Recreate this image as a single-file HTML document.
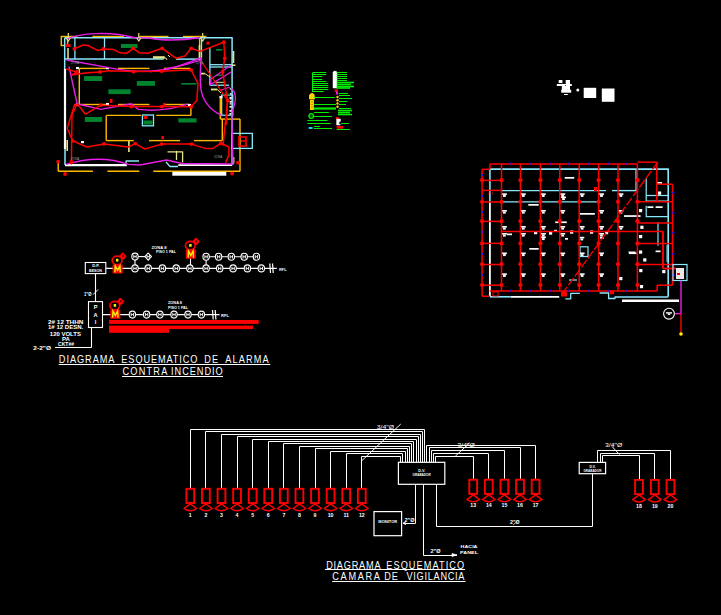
<!DOCTYPE html>
<html><head><meta charset="utf-8"><style>
html,body{margin:0;padding:0;background:#000;width:721px;height:615px;overflow:hidden}
svg{display:block;font-family:"Liberation Sans",sans-serif}
</style></head><body>
<svg width="721" height="615" viewBox="0 0 721 615">
<rect width="721" height="615" fill="#000"/>
<line x1="67.6" y1="36.5" x2="77.3" y2="36.5" stroke="#ffba00" stroke-width="1.4" />
<line x1="92.4" y1="36.5" x2="123.9" y2="36.5" stroke="#ffba00" stroke-width="1.4" />
<line x1="139.4" y1="36.5" x2="168.5" y2="36.5" stroke="#ffba00" stroke-width="1.4" />
<line x1="183" y1="36.5" x2="206.4" y2="36.5" stroke="#ffba00" stroke-width="1.4" />
<rect x="61.3" y="36.5" width="6.3" height="9" fill="none" stroke="#ffba00" stroke-width="1.4" />
<line x1="199.6" y1="36.5" x2="199.6" y2="59" stroke="#ffba00" stroke-width="1.4" />
<line x1="79.3" y1="68.4" x2="108.4" y2="68.4" stroke="#ffba00" stroke-width="1.4" />
<line x1="79.3" y1="104.5" x2="108.4" y2="104.5" stroke="#ffba00" stroke-width="1.4" />
<line x1="118" y1="68.4" x2="149.5" y2="68.4" stroke="#ffba00" stroke-width="1.4" />
<line x1="118" y1="104.5" x2="149.5" y2="104.5" stroke="#ffba00" stroke-width="1.4" />
<line x1="164" y1="68.4" x2="190.2" y2="68.4" stroke="#ffba00" stroke-width="1.4" />
<line x1="164" y1="104.5" x2="190.2" y2="104.5" stroke="#ffba00" stroke-width="1.4" />
<line x1="79.3" y1="68.4" x2="79.3" y2="104.5" stroke="#ffba00" stroke-width="1.4" />
<line x1="106.3" y1="115.4" x2="141" y2="115.4" stroke="#ffba00" stroke-width="1.4" />
<line x1="156.2" y1="115.4" x2="190.9" y2="115.4" stroke="#ffba00" stroke-width="1.4" />
<line x1="190.9" y1="104.5" x2="190.9" y2="115.4" stroke="#ffba00" stroke-width="1.4" />
<line x1="106.2" y1="115.4" x2="106.2" y2="140.6" stroke="#ffba00" stroke-width="1.4" />
<line x1="106.2" y1="140.6" x2="133.8" y2="140.6" stroke="#ffba00" stroke-width="1.4" />
<line x1="149" y1="140.6" x2="180" y2="140.6" stroke="#ffba00" stroke-width="1.4" />
<line x1="194" y1="140.6" x2="222.3" y2="140.6" stroke="#ffba00" stroke-width="1.4" />
<line x1="222.3" y1="119.1" x2="222.3" y2="140.6" stroke="#ffba00" stroke-width="1.4" />
<line x1="220.4" y1="119.1" x2="240" y2="119.1" stroke="#ffba00" stroke-width="1.4" />
<line x1="240" y1="119.1" x2="240" y2="171.3" stroke="#ffba00" stroke-width="1.4" />
<line x1="58.2" y1="171.3" x2="92.9" y2="171.3" stroke="#ffba00" stroke-width="1.4" />
<line x1="107.4" y1="171.3" x2="139.3" y2="171.3" stroke="#ffba00" stroke-width="1.4" />
<line x1="153.3" y1="171.3" x2="240" y2="171.3" stroke="#ffba00" stroke-width="1.4" />
<line x1="58.2" y1="161.6" x2="58.2" y2="171.3" stroke="#ffba00" stroke-width="1.4" />
<line x1="220.4" y1="96.3" x2="220.4" y2="119.1" stroke="#ffba00" stroke-width="1.6" />
<line x1="64.7" y1="37.8" x2="232.6" y2="37.8" stroke="#8ae8ff" stroke-width="1.5" />
<line x1="64.7" y1="37.8" x2="64.7" y2="69" stroke="#8ae8ff" stroke-width="1.5" />
<line x1="65" y1="149" x2="65" y2="165" stroke="#8ae8ff" stroke-width="1.5" />
<line x1="232.1" y1="37.8" x2="232.1" y2="165.3" stroke="#8ae8ff" stroke-width="1.5" />
<line x1="74.9" y1="37.8" x2="74.9" y2="59.1" stroke="#8ae8ff" stroke-width="1.3" />
<line x1="104.5" y1="37.8" x2="104.5" y2="59.1" stroke="#8ae8ff" stroke-width="1.3" />
<line x1="64.7" y1="59.1" x2="163.7" y2="59.1" stroke="#8ae8ff" stroke-width="1.5" />
<line x1="176" y1="59.1" x2="201.5" y2="59.1" stroke="#8ae8ff" stroke-width="1.5" />
<line x1="201.5" y1="37.8" x2="201.5" y2="59.1" stroke="#8ae8ff" stroke-width="1.3" />
<line x1="209.9" y1="47.5" x2="209.9" y2="85.2" stroke="#8ae8ff" stroke-width="1.3" />
<line x1="209.9" y1="64.7" x2="232.1" y2="64.7" stroke="#8ae8ff" stroke-width="1.3" />
<line x1="209.9" y1="67.0" x2="232.1" y2="67.0" stroke="#8ae8ff" stroke-width="1.3" />
<line x1="209.9" y1="85.2" x2="229" y2="85.2" stroke="#8ae8ff" stroke-width="1.3" />
<rect x="221.7" y="95" width="11.1" height="20.2" fill="none" stroke="#8ae8ff" stroke-width="1.2" />
<rect x="142.4" y="115" width="11.1" height="10.8" fill="none" stroke="#8ae8ff" stroke-width="1.3" />
<rect x="232.1" y="133.4" width="20.2" height="15" fill="none" stroke="#8ae8ff" stroke-width="1.3" />
<polyline points="126,165 126,161 139,161" fill="none" stroke="#8ae8ff" stroke-width="1.3" stroke-linejoin="round" />
<polyline points="166,162 170,166.5 178,166.5" fill="none" stroke="#8ae8ff" stroke-width="1.3" stroke-linejoin="round" />
<line x1="65" y1="69" x2="65" y2="149" stroke="#ffffff" stroke-width="2.2" />
<line x1="65" y1="165.1" x2="126.8" y2="165.1" stroke="#ffffff" stroke-width="2.2" />
<line x1="178.3" y1="165.2" x2="232" y2="165.2" stroke="#ffffff" stroke-width="1.8" />
<rect x="172.3" y="171.8" width="54" height="3.9" fill="#ffffff" stroke="none" stroke-width="1" />
<rect x="76" y="67" width="3" height="2.2" fill="#ffffff" stroke="none" stroke-width="1" />
<rect x="106" y="67" width="3" height="2.2" fill="#ffffff" stroke="none" stroke-width="1" />
<rect x="75.5" y="103.5" width="3" height="2.2" fill="#ffffff" stroke="none" stroke-width="1" />
<rect x="106" y="103" width="3" height="2.2" fill="#ffffff" stroke="none" stroke-width="1" />
<rect x="188" y="104" width="3" height="2.2" fill="#ffffff" stroke="none" stroke-width="1" />
<rect x="81" y="141" width="3" height="2.2" fill="#ffffff" stroke="none" stroke-width="1" />
<rect x="219.5" y="96" width="3" height="2.2" fill="#ffffff" stroke="none" stroke-width="1" />
<rect x="229.5" y="97" width="2.2" height="1.6" fill="#ffffff" stroke="none" stroke-width="1" />
<rect x="229.5" y="101" width="2.2" height="1.6" fill="#ffffff" stroke="none" stroke-width="1" />
<rect x="229.5" y="106" width="2.2" height="1.6" fill="#ffffff" stroke="none" stroke-width="1" />
<rect x="229.5" y="110" width="2.2" height="1.6" fill="#ffffff" stroke="none" stroke-width="1" />
<rect x="229.5" y="113" width="2.2" height="1.6" fill="#ffffff" stroke="none" stroke-width="1" />
<rect x="229.8" y="88" width="1.6" height="1.6" fill="#dddddd" stroke="none" stroke-width="1" />
<rect x="229.8" y="93" width="1.6" height="1.6" fill="#dddddd" stroke="none" stroke-width="1" />
<rect x="229.8" y="98" width="1.6" height="1.6" fill="#dddddd" stroke="none" stroke-width="1" />
<rect x="229.8" y="103" width="1.6" height="1.6" fill="#dddddd" stroke="none" stroke-width="1" />
<rect x="229.8" y="110" width="1.6" height="1.6" fill="#dddddd" stroke="none" stroke-width="1" />
<rect x="121" y="44" width="16.5" height="4" fill="#00842e" stroke="none" stroke-width="1" />
<rect x="84.1" y="76.1" width="18.10000000000001" height="4.900000000000006" fill="#00842e" stroke="none" stroke-width="1" />
<rect x="108.4" y="89.3" width="22.19999999999999" height="4.799999999999997" fill="#00842e" stroke="none" stroke-width="1" />
<rect x="136.8" y="81" width="18.19999999999999" height="4.799999999999997" fill="#00842e" stroke="none" stroke-width="1" />
<rect x="181.2" y="83" width="15.300000000000011" height="1.5999999999999943" fill="#00842e" stroke="none" stroke-width="1" />
<rect x="84.8" y="117" width="17.400000000000006" height="4.900000000000006" fill="#00842e" stroke="none" stroke-width="1" />
<rect x="178.3" y="118.3" width="18.299999999999983" height="4.200000000000003" fill="#00842e" stroke="none" stroke-width="1" />
<rect x="216" y="49" width="6.400000000000006" height="1.6000000000000014" fill="#00842e" stroke="none" stroke-width="1" />
<rect x="143.5" y="120.5" width="9.0" height="4.0" fill="#00842e" stroke="none" stroke-width="1" />
<rect x="216.2" y="74.4" width="6.300000000000011" height="1.5999999999999943" fill="#00842e" stroke="none" stroke-width="1" />
<rect x="224.2" y="93.6" width="5.700000000000017" height="1.4000000000000057" fill="#00842e" stroke="none" stroke-width="1" />
<line x1="68" y1="48" x2="68" y2="59" stroke="#e4e888" stroke-width="1.5" />
<rect x="153" y="56.2" width="11.7" height="2" fill="#e4e888" stroke="none" stroke-width="1" />
<polyline points="153,58 166,58 167,60" fill="none" stroke="#e4e888" stroke-width="1.0" stroke-linejoin="round" />
<polyline points="167.5,151.8 182.6,151.8 182.6,162.6" fill="none" stroke="#e4e888" stroke-width="1.3" stroke-linejoin="round" />
<line x1="176.5" y1="150.8" x2="176.5" y2="160" stroke="#e4e888" stroke-width="1.3" />
<line x1="67.2" y1="140" x2="67.2" y2="151" stroke="#e4e888" stroke-width="1.6" />
<line x1="128.9" y1="140.8" x2="128.9" y2="152" stroke="#e4e888" stroke-width="1.6" />
<line x1="199.5" y1="45" x2="199.5" y2="60" stroke="#e4e888" stroke-width="1.6" />
<line x1="233.5" y1="51" x2="233.5" y2="63" stroke="#e4e888" stroke-width="1.6" />
<rect x="200.3" y="72.7" width="4.5" height="1.8" fill="#e4e888" stroke="none" stroke-width="1" />
<line x1="204.8" y1="73.5" x2="210" y2="77" stroke="#e4e888" stroke-width="1.0" />
<rect x="211" y="88.6" width="6.3" height="1.8" fill="#e4e888" stroke="none" stroke-width="1" />
<line x1="217.3" y1="89.5" x2="221" y2="93" stroke="#e4e888" stroke-width="1.0" />
<line x1="214.5" y1="82.3" x2="225.3" y2="82.3" stroke="#e4e888" stroke-width="1.0" />
<line x1="232" y1="65.2" x2="235.5" y2="65.2" stroke="#e4e888" stroke-width="1.5" />
<polyline points="233.8,157 233.8,163 232,164" fill="none" stroke="#e4e888" stroke-width="1.2" stroke-linejoin="round" />
<line x1="168" y1="55" x2="170" y2="57" stroke="#e4e888" stroke-width="1" />
<path d="M66.6,39.2 C80,33 110,31 135,37.8 L150,38 C160,40.5 180,41 200,37.5" fill="none" stroke="#e81ee8" stroke-width="1.4" />
<path d="M66.6,60 L107.4,67.4 C130,72 155,73 176,67 L201.4,58" fill="none" stroke="#e81ee8" stroke-width="1.4" />
<path d="M68.9,66.4 L77.2,103.8 L100.8,109.4 L131.3,103.8 L138.2,109.4 C160,112 175,108 188,103.8" fill="none" stroke="#e81ee8" stroke-width="1.4" />
<path d="M150,72 L184.7,65 L201.4,60" fill="none" stroke="#e81ee8" stroke-width="1.2" />
<path d="M201.4,57.3 C200,70 200,80 200.8,88 C202,100 210,110 221,115" fill="none" stroke="#e81ee8" stroke-width="1.4" />
<path d="M231,65.2 L211,79 L210.5,84.6 L231,72 M220.8,90.3 L229.9,87" fill="none" stroke="#e81ee8" stroke-width="1.2" />
<path d="M231,88 C236,92 237,100 232,112 L232,121 L233,165" fill="none" stroke="#e81ee8" stroke-width="1.3" />
<path d="M65.8,164.4 Q100,154 128.2,164.4 L140,165 L166.6,160 L182,163.5 L232,164" fill="none" stroke="#e81ee8" stroke-width="1.4" />
<polyline points="74.4,48.9 83.2,45 88,45.5 97.7,50.4 103.5,49 113.3,49.4 120,52.8 126.8,53.3 133.1,48.4 139.4,52.8 148,53.3 162.2,48.3 176,58.2 185,56 191.2,48.3 200,51.4 223.8,42.2 224.8,58.2 222.5,72 227.6,100.6 223,145.8" fill="none" stroke="#ff0000" stroke-width="1.5" stroke-linejoin="round" />
<polyline points="202.5,63 227.6,100.6 226.4,125" fill="none" stroke="#ff0000" stroke-width="1.3" stroke-linejoin="round" />
<rect x="65.2" y="44" width="5.3" height="3" fill="#ff0000" stroke="none" stroke-width="1" />
<polyline points="66,69 77,72 72,75 85,73 100,72 108,70.8 133.6,71.5 161.7,71.2 191.1,69.8 198,83.5 196.8,100.6 191.1,106.8 161.7,106.6 131.3,106.6 100.8,105.2 85.5,114.2 77.2,103.8" fill="none" stroke="#ff0000" stroke-width="1.5" stroke-linejoin="round" />
<polyline points="74.8,104 67.2,128.3 72.7,140.8 86.6,147 104,143.9 128.2,147 135.2,143.6 145,149 161.6,144.1 191.6,144.1 205.4,148.4 213,148.4 221,143.2 228.9,147 228.9,155 225.6,162.7" fill="none" stroke="#ff0000" stroke-width="1.5" stroke-linejoin="round" />
<polyline points="77.2,103.8 72,115 71.4,164.4" fill="none" stroke="#ff0000" stroke-width="1.4" stroke-linejoin="round" />
<circle cx="74.4" cy="48.9" r="1.9" fill="#ff0000" stroke="none" stroke-width="1"/>
<circle cx="103.5" cy="49" r="1.9" fill="#ff0000" stroke="none" stroke-width="1"/>
<circle cx="133.1" cy="48.4" r="1.9" fill="#ff0000" stroke="none" stroke-width="1"/>
<circle cx="162.2" cy="48.3" r="1.9" fill="#ff0000" stroke="none" stroke-width="1"/>
<circle cx="191.2" cy="48.3" r="1.9" fill="#ff0000" stroke="none" stroke-width="1"/>
<circle cx="223.8" cy="42.2" r="1.9" fill="#ff0000" stroke="none" stroke-width="1"/>
<circle cx="224.8" cy="58.2" r="1.9" fill="#ff0000" stroke="none" stroke-width="1"/>
<circle cx="222.5" cy="72" r="1.9" fill="#ff0000" stroke="none" stroke-width="1"/>
<circle cx="227.6" cy="100.6" r="1.9" fill="#ff0000" stroke="none" stroke-width="1"/>
<circle cx="77" cy="72" r="1.9" fill="#ff0000" stroke="none" stroke-width="1"/>
<circle cx="100" cy="72" r="1.9" fill="#ff0000" stroke="none" stroke-width="1"/>
<circle cx="133.6" cy="71.5" r="1.9" fill="#ff0000" stroke="none" stroke-width="1"/>
<circle cx="161.7" cy="71.2" r="1.9" fill="#ff0000" stroke="none" stroke-width="1"/>
<circle cx="191.1" cy="69.8" r="1.9" fill="#ff0000" stroke="none" stroke-width="1"/>
<circle cx="191.1" cy="106.8" r="1.9" fill="#ff0000" stroke="none" stroke-width="1"/>
<circle cx="161.7" cy="106.6" r="1.9" fill="#ff0000" stroke="none" stroke-width="1"/>
<circle cx="131.3" cy="106.6" r="1.9" fill="#ff0000" stroke="none" stroke-width="1"/>
<circle cx="100.8" cy="105.2" r="1.9" fill="#ff0000" stroke="none" stroke-width="1"/>
<circle cx="72.7" cy="140.8" r="1.9" fill="#ff0000" stroke="none" stroke-width="1"/>
<circle cx="104" cy="143.9" r="1.9" fill="#ff0000" stroke="none" stroke-width="1"/>
<circle cx="135.2" cy="143.6" r="1.9" fill="#ff0000" stroke="none" stroke-width="1"/>
<circle cx="161.6" cy="144.1" r="1.9" fill="#ff0000" stroke="none" stroke-width="1"/>
<circle cx="191.6" cy="144.1" r="1.9" fill="#ff0000" stroke="none" stroke-width="1"/>
<circle cx="221" cy="143.2" r="1.9" fill="#ff0000" stroke="none" stroke-width="1"/>
<circle cx="58.2" cy="161.6" r="1.9" fill="#ff0000" stroke="none" stroke-width="1"/>
<circle cx="65.1" cy="174" r="1.9" fill="#ff0000" stroke="none" stroke-width="1"/>
<circle cx="232.1" cy="173.5" r="1.9" fill="#ff0000" stroke="none" stroke-width="1"/>
<circle cx="71.5" cy="162" r="1.9" fill="#ff0000" stroke="none" stroke-width="1"/>
<circle cx="238" cy="162.7" r="1.9" fill="#ff0000" stroke="none" stroke-width="1"/>
<rect x="163" y="103" width="2.5" height="4" fill="#ff0000" stroke="none" stroke-width="1" />
<rect x="110" y="99" width="2.5" height="4" fill="#ff0000" stroke="none" stroke-width="1" />
<rect x="161.4" y="136" width="2.5" height="3.2" fill="#ff0000" stroke="none" stroke-width="1" />
<path d="M238,137 L246,137 L246,146 M239,137 L239,146 L247,146 M241,141 L245,141" fill="none" stroke="#ff0000" stroke-width="1.6" />
<rect x="143.5" y="116" width="4" height="3" fill="#ff0000" stroke="none" stroke-width="1" />
<rect x="206.5" y="41.6" width="3" height="3" fill="#ff0000" stroke="none" stroke-width="1" />
<text x="71" y="63.5" font-size="3" fill="#9a9a9a">ZONA</text>
<text x="71" y="159.5" font-size="3" fill="#9a9a9a">ZONA</text>
<text x="214" y="158" font-size="3" fill="#9a9a9a">ZONA</text>
<text x="196" y="64" font-size="2.6" fill="#9a9a9a">ZONA</text>
<path d="M68.3,33 L68.3,38 M66.3,38 L68.3,41 L70.3,38" fill="none" stroke="#e4e888" stroke-width="1.2" />
<path d="M138.8,33 L138.8,38 M136.8,38 L138.8,41 L140.8,38" fill="none" stroke="#e4e888" stroke-width="1.2" />
<path d="M202.7,33 L202.7,38 M200.7,38 L202.7,41 L204.7,38" fill="none" stroke="#e4e888" stroke-width="1.2" />
<line x1="312.5" y1="72.4" x2="312.5" y2="92" stroke="#00f000" stroke-width="1.0" />
<line x1="313" y1="72.5" x2="326.2" y2="72.5" stroke="#00f000" stroke-width="1.0" />
<line x1="313" y1="74.5" x2="326.2" y2="74.5" stroke="#00f000" stroke-width="1.0" />
<line x1="313" y1="76.5" x2="322.3" y2="76.5" stroke="#00f000" stroke-width="1.0" />
<line x1="313" y1="79.5" x2="322.3" y2="79.5" stroke="#00f000" stroke-width="1.0" />
<line x1="313" y1="81.5" x2="326.2" y2="81.5" stroke="#00f000" stroke-width="1.0" />
<line x1="313" y1="83.5" x2="328.2" y2="83.5" stroke="#00f000" stroke-width="1.0" />
<line x1="313" y1="85.5" x2="328.2" y2="85.5" stroke="#00f000" stroke-width="1.0" />
<line x1="313" y1="87.5" x2="328.2" y2="87.5" stroke="#00f000" stroke-width="1.0" />
<line x1="313" y1="89.5" x2="328.2" y2="89.5" stroke="#00f000" stroke-width="1.0" />
<line x1="313" y1="91.5" x2="323.6" y2="91.5" stroke="#00f000" stroke-width="1.0" />
<path d="M309.5,99 L309.5,95 Q311.5,92 314,94.5 L314.5,99 Z" fill="#ffd400" stroke="#ffd400" stroke-width="1.0" />
<rect x="310" y="100" width="3.9" height="10" fill="#ffd400" stroke="none" stroke-width="1" />
<line x1="311" y1="102" x2="313" y2="102" stroke="#806800" stroke-width="0.6" />
<line x1="311" y1="104.5" x2="313" y2="104.5" stroke="#806800" stroke-width="0.6" />
<line x1="311" y1="107" x2="313" y2="107" stroke="#806800" stroke-width="0.6" />
<circle cx="311.3" cy="116" r="2.3" fill="none" stroke="#00f000" stroke-width="1.2"/>
<line x1="308" y1="116" x2="314" y2="116" stroke="#00f000" stroke-width="0.8" />
<rect x="308.7" y="127" width="3.8" height="2" fill="#00e0ff" stroke="none" stroke-width="1" />
<line x1="313.9" y1="97.5" x2="334.7" y2="97.5" stroke="#00f000" stroke-width="1" />
<line x1="313.9" y1="104.5" x2="336" y2="104.5" stroke="#00f000" stroke-width="1" />
<line x1="313.9" y1="108.5" x2="336" y2="108.5" stroke="#00f000" stroke-width="2.2" />
<line x1="313.9" y1="112.5" x2="328.8" y2="112.5" stroke="#00f000" stroke-width="1" />
<line x1="313.9" y1="116.5" x2="332" y2="116.5" stroke="#00f000" stroke-width="1" />
<line x1="307.4" y1="120.5" x2="327.5" y2="120.5" stroke="#00f000" stroke-width="1" />
<line x1="307.4" y1="123.5" x2="330.7" y2="123.5" stroke="#00f000" stroke-width="1" />
<line x1="313.9" y1="126.5" x2="319.7" y2="126.5" stroke="#00f000" stroke-width="1" />
<line x1="313.9" y1="128.5" x2="332" y2="128.5" stroke="#00f000" stroke-width="1" />
<path d="M333,72 Q335,70 337,72 L337,88 L333,88 Z" fill="#ffffff" stroke="#ffffff" stroke-width="0.5" />
<line x1="336.6" y1="72.5" x2="347" y2="72.5" stroke="#00f000" stroke-width="1.0" />
<line x1="336.6" y1="74.5" x2="347" y2="74.5" stroke="#00f000" stroke-width="1.0" />
<line x1="336.6" y1="76.5" x2="347" y2="76.5" stroke="#00f000" stroke-width="1.0" />
<line x1="336.6" y1="78.5" x2="347" y2="78.5" stroke="#00f000" stroke-width="1.0" />
<line x1="336.6" y1="80.5" x2="347" y2="80.5" stroke="#00f000" stroke-width="1.0" />
<line x1="336.6" y1="82.5" x2="354" y2="82.5" stroke="#00f000" stroke-width="1.6" />
<line x1="336.6" y1="84.5" x2="351" y2="84.5" stroke="#00f000" stroke-width="1.6" />
<line x1="336.6" y1="86.5" x2="354" y2="86.5" stroke="#00f000" stroke-width="1.6" />
<line x1="336.6" y1="88" x2="350" y2="88" stroke="#00f000" stroke-width="1.6" />
<rect x="334.7" y="89.3" width="3.2" height="2.6" fill="#ff0000" stroke="none" stroke-width="1" />
<rect x="336" y="91.5" width="2" height="3" fill="#e81ee8" stroke="none" stroke-width="1" />
<circle cx="337.5" cy="97" r="1.2" fill="#ffd400" stroke="none" stroke-width="1"/>
<circle cx="337.5" cy="100.3" r="1.2" fill="#ffd400" stroke="none" stroke-width="1"/>
<circle cx="337.5" cy="103.5" r="1.2" fill="#ffd400" stroke="none" stroke-width="1"/>
<circle cx="337.5" cy="106.8" r="1.2" fill="#ffd400" stroke="none" stroke-width="1"/>
<line x1="339" y1="93.5" x2="348" y2="93.5" stroke="#00f000" stroke-width="1.0" />
<line x1="339" y1="95.5" x2="350" y2="95.5" stroke="#00f000" stroke-width="1.0" />
<line x1="339" y1="98.5" x2="352" y2="98.5" stroke="#00f000" stroke-width="1.0" />
<line x1="339" y1="101.5" x2="347" y2="101.5" stroke="#00f000" stroke-width="1.0" />
<line x1="339" y1="104.5" x2="346" y2="104.5" stroke="#00f000" stroke-width="1.0" />
<line x1="339" y1="108.5" x2="351" y2="108.5" stroke="#00f000" stroke-width="1.0" />
<line x1="338" y1="110.5" x2="352" y2="110.5" stroke="#00f000" stroke-width="1.6" />
<line x1="338" y1="112.5" x2="350" y2="112.5" stroke="#00f000" stroke-width="1.6" />
<line x1="338" y1="114.5" x2="352" y2="114.5" stroke="#00f000" stroke-width="1.6" />
<rect x="336" y="117" width="2.6" height="2" fill="#ff0000" stroke="none" stroke-width="1" />
<path d="M336.6,119 L340.5,119 L340.5,121 L338.5,123 L340.5,125 L336.6,125 Z" fill="#ffffff" stroke="#ffffff" stroke-width="0.5" />
<rect x="336.6" y="126" width="6.4" height="2.7" fill="#ff0000" stroke="none" stroke-width="1" />
<line x1="336.6" y1="129.5" x2="350" y2="129.5" stroke="#00f000" stroke-width="1.0" />
<line x1="341" y1="123.5" x2="349" y2="123.5" stroke="#00f000" stroke-width="1.0" />
<rect x="583.7" y="87.8" width="12.5" height="10.2" fill="#ffffff" stroke="none" stroke-width="1" />
<rect x="601.8" y="88.5" width="12.7" height="13.3" fill="#ffffff" stroke="none" stroke-width="1" />
<circle cx="577.8" cy="90" r="1.5" fill="#ffffff" stroke="none" stroke-width="1"/>
<rect x="558.7" y="80" width="3.7" height="3" fill="#ffffff" stroke="none" stroke-width="1" />
<rect x="565.7" y="80" width="4.3" height="5" fill="#ffffff" stroke="none" stroke-width="1" />
<rect x="556.8" y="84" width="15" height="2" fill="#ffffff" stroke="none" stroke-width="1" />
<rect x="561.8" y="86" width="8.2" height="4" fill="#ffffff" stroke="none" stroke-width="1" />
<rect x="561.2" y="89.8" width="10" height="2.9" fill="#ffffff" stroke="none" stroke-width="1" />
<rect x="564" y="94" width="3.8" height="1" fill="#ffffff" stroke="none" stroke-width="1" />
<circle cx="562.5" cy="83.5" r="0.6" fill="#333" stroke="none" stroke-width="1"/>
<circle cx="565.5" cy="85.5" r="0.5" fill="#333" stroke="none" stroke-width="1"/>
<line x1="489.9" y1="169.1" x2="668.8" y2="169.1" stroke="#8ae8ff" stroke-width="1.6" />
<line x1="489.9" y1="169.1" x2="489.9" y2="202" stroke="#8ae8ff" stroke-width="1.6" />
<line x1="489.9" y1="202" x2="489.9" y2="296.5" stroke="#ffffff" stroke-width="1.8" />
<line x1="668.2" y1="169.1" x2="668.2" y2="296.7" stroke="#8ae8ff" stroke-width="1.6" />
<line x1="490" y1="296.8" x2="510.7" y2="296.8" stroke="#8ae8ff" stroke-width="1.6" />
<line x1="510.7" y1="296.8" x2="559.2" y2="296.8" stroke="#ffffff" stroke-width="1.8" />
<polyline points="565.3,298.8 570.7,298.8 570.7,293.4 579.8,293.4" fill="none" stroke="#8ae8ff" stroke-width="1.3" stroke-linejoin="round" />
<polyline points="599.6,293 608.6,293 608.6,298.5 615,298.5 615,297 668.2,297" fill="none" stroke="#8ae8ff" stroke-width="1.3" stroke-linejoin="round" />
<line x1="501.5" y1="190.6" x2="606" y2="190.6" stroke="#8ae8ff" stroke-width="1.4" />
<line x1="612" y1="190.6" x2="637" y2="190.6" stroke="#8ae8ff" stroke-width="1.4" />
<line x1="501.5" y1="201.9" x2="598" y2="201.9" stroke="#8ae8ff" stroke-width="1.4" />
<line x1="636" y1="169.1" x2="636" y2="190.6" stroke="#8ae8ff" stroke-width="1.2" />
<polyline points="646.2,178.6 646.2,201 668.2,201" fill="none" stroke="#8ae8ff" stroke-width="1.2" stroke-linejoin="round" />
<line x1="646.2" y1="195.5" x2="668.2" y2="195.5" stroke="#8ae8ff" stroke-width="1.2" />
<polyline points="646.2,205.7 646.2,216.7 668.2,216.7" fill="none" stroke="#8ae8ff" stroke-width="1.2" stroke-linejoin="round" />
<rect x="580" y="246.8" width="8" height="9.7" fill="none" stroke="#8ae8ff" stroke-width="1.2" />
<line x1="569" y1="280" x2="577" y2="280" stroke="#8ae8ff" stroke-width="1.2" />
<line x1="658" y1="222" x2="658" y2="245.7" stroke="#8ae8ff" stroke-width="1.2" />
<line x1="667" y1="245" x2="667" y2="262" stroke="#8ae8ff" stroke-width="1.0" />
<rect x="501.9" y="193.3" width="5" height="1.6" fill="#ffffff" stroke="none" stroke-width="1" />
<rect x="503.0" y="194.9" width="2.8" height="2.0" fill="#ffffff" stroke="none" stroke-width="1" />
<rect x="520.8" y="193.3" width="5" height="1.6" fill="#ffffff" stroke="none" stroke-width="1" />
<rect x="521.9" y="194.9" width="2.8" height="2.0" fill="#ffffff" stroke="none" stroke-width="1" />
<rect x="540.8" y="193.3" width="5" height="1.6" fill="#ffffff" stroke="none" stroke-width="1" />
<rect x="541.9" y="194.9" width="2.8" height="2.0" fill="#ffffff" stroke="none" stroke-width="1" />
<rect x="560.1999999999999" y="193.3" width="5" height="1.6" fill="#ffffff" stroke="none" stroke-width="1" />
<rect x="561.3" y="194.9" width="2.8" height="2.0" fill="#ffffff" stroke="none" stroke-width="1" />
<rect x="579.6" y="193.3" width="5" height="1.6" fill="#ffffff" stroke="none" stroke-width="1" />
<rect x="580.7" y="194.9" width="2.8" height="2.0" fill="#ffffff" stroke="none" stroke-width="1" />
<rect x="599.0" y="193.3" width="5" height="1.6" fill="#ffffff" stroke="none" stroke-width="1" />
<rect x="600.1" y="194.9" width="2.8" height="2.0" fill="#ffffff" stroke="none" stroke-width="1" />
<rect x="618.4" y="193.3" width="5" height="1.6" fill="#ffffff" stroke="none" stroke-width="1" />
<rect x="619.5" y="194.9" width="2.8" height="2.0" fill="#ffffff" stroke="none" stroke-width="1" />
<rect x="501.9" y="210" width="5" height="1.6" fill="#ffffff" stroke="none" stroke-width="1" />
<rect x="503.0" y="211.6" width="2.8" height="2.0" fill="#ffffff" stroke="none" stroke-width="1" />
<rect x="520.8" y="210" width="5" height="1.6" fill="#ffffff" stroke="none" stroke-width="1" />
<rect x="521.9" y="211.6" width="2.8" height="2.0" fill="#ffffff" stroke="none" stroke-width="1" />
<rect x="540.8" y="210" width="5" height="1.6" fill="#ffffff" stroke="none" stroke-width="1" />
<rect x="541.9" y="211.6" width="2.8" height="2.0" fill="#ffffff" stroke="none" stroke-width="1" />
<rect x="560.1999999999999" y="210" width="5" height="1.6" fill="#ffffff" stroke="none" stroke-width="1" />
<rect x="561.3" y="211.6" width="2.8" height="2.0" fill="#ffffff" stroke="none" stroke-width="1" />
<rect x="599.0" y="210" width="5" height="1.6" fill="#ffffff" stroke="none" stroke-width="1" />
<rect x="600.1" y="211.6" width="2.8" height="2.0" fill="#ffffff" stroke="none" stroke-width="1" />
<rect x="618.4" y="210" width="5" height="1.6" fill="#ffffff" stroke="none" stroke-width="1" />
<rect x="619.5" y="211.6" width="2.8" height="2.0" fill="#ffffff" stroke="none" stroke-width="1" />
<rect x="501.9" y="226" width="5" height="1.6" fill="#ffffff" stroke="none" stroke-width="1" />
<rect x="503.0" y="227.6" width="2.8" height="2.0" fill="#ffffff" stroke="none" stroke-width="1" />
<rect x="520.8" y="226" width="5" height="1.6" fill="#ffffff" stroke="none" stroke-width="1" />
<rect x="521.9" y="227.6" width="2.8" height="2.0" fill="#ffffff" stroke="none" stroke-width="1" />
<rect x="540.8" y="226" width="5" height="1.6" fill="#ffffff" stroke="none" stroke-width="1" />
<rect x="541.9" y="227.6" width="2.8" height="2.0" fill="#ffffff" stroke="none" stroke-width="1" />
<rect x="560.1999999999999" y="226" width="5" height="1.6" fill="#ffffff" stroke="none" stroke-width="1" />
<rect x="561.3" y="227.6" width="2.8" height="2.0" fill="#ffffff" stroke="none" stroke-width="1" />
<rect x="579.6" y="226" width="5" height="1.6" fill="#ffffff" stroke="none" stroke-width="1" />
<rect x="580.7" y="227.6" width="2.8" height="2.0" fill="#ffffff" stroke="none" stroke-width="1" />
<rect x="599.0" y="226" width="5" height="1.6" fill="#ffffff" stroke="none" stroke-width="1" />
<rect x="600.1" y="227.6" width="2.8" height="2.0" fill="#ffffff" stroke="none" stroke-width="1" />
<rect x="618.4" y="226" width="5" height="1.6" fill="#ffffff" stroke="none" stroke-width="1" />
<rect x="619.5" y="227.6" width="2.8" height="2.0" fill="#ffffff" stroke="none" stroke-width="1" />
<rect x="501.9" y="233" width="5" height="1.6" fill="#ffffff" stroke="none" stroke-width="1" />
<rect x="503.0" y="234.6" width="2.8" height="2.0" fill="#ffffff" stroke="none" stroke-width="1" />
<rect x="520.8" y="233" width="5" height="1.6" fill="#ffffff" stroke="none" stroke-width="1" />
<rect x="521.9" y="234.6" width="2.8" height="2.0" fill="#ffffff" stroke="none" stroke-width="1" />
<rect x="540.8" y="233" width="5" height="1.6" fill="#ffffff" stroke="none" stroke-width="1" />
<rect x="541.9" y="234.6" width="2.8" height="2.0" fill="#ffffff" stroke="none" stroke-width="1" />
<rect x="560.1999999999999" y="233" width="5" height="1.6" fill="#ffffff" stroke="none" stroke-width="1" />
<rect x="561.3" y="234.6" width="2.8" height="2.0" fill="#ffffff" stroke="none" stroke-width="1" />
<rect x="599.0" y="233" width="5" height="1.6" fill="#ffffff" stroke="none" stroke-width="1" />
<rect x="600.1" y="234.6" width="2.8" height="2.0" fill="#ffffff" stroke="none" stroke-width="1" />
<rect x="501.9" y="252.5" width="5" height="1.6" fill="#ffffff" stroke="none" stroke-width="1" />
<rect x="503.0" y="254.1" width="2.8" height="2.0" fill="#ffffff" stroke="none" stroke-width="1" />
<rect x="520.8" y="252.5" width="5" height="1.6" fill="#ffffff" stroke="none" stroke-width="1" />
<rect x="521.9" y="254.1" width="2.8" height="2.0" fill="#ffffff" stroke="none" stroke-width="1" />
<rect x="540.8" y="252.5" width="5" height="1.6" fill="#ffffff" stroke="none" stroke-width="1" />
<rect x="541.9" y="254.1" width="2.8" height="2.0" fill="#ffffff" stroke="none" stroke-width="1" />
<rect x="560.1999999999999" y="252.5" width="5" height="1.6" fill="#ffffff" stroke="none" stroke-width="1" />
<rect x="561.3" y="254.1" width="2.8" height="2.0" fill="#ffffff" stroke="none" stroke-width="1" />
<rect x="579.6" y="252.5" width="5" height="1.6" fill="#ffffff" stroke="none" stroke-width="1" />
<rect x="580.7" y="254.1" width="2.8" height="2.0" fill="#ffffff" stroke="none" stroke-width="1" />
<rect x="599.0" y="252.5" width="5" height="1.6" fill="#ffffff" stroke="none" stroke-width="1" />
<rect x="600.1" y="254.1" width="2.8" height="2.0" fill="#ffffff" stroke="none" stroke-width="1" />
<rect x="501.9" y="273.3" width="5" height="1.6" fill="#ffffff" stroke="none" stroke-width="1" />
<rect x="503.0" y="274.90000000000003" width="2.8" height="2.0" fill="#ffffff" stroke="none" stroke-width="1" />
<rect x="520.8" y="273.3" width="5" height="1.6" fill="#ffffff" stroke="none" stroke-width="1" />
<rect x="521.9" y="274.90000000000003" width="2.8" height="2.0" fill="#ffffff" stroke="none" stroke-width="1" />
<rect x="540.8" y="273.3" width="5" height="1.6" fill="#ffffff" stroke="none" stroke-width="1" />
<rect x="541.9" y="274.90000000000003" width="2.8" height="2.0" fill="#ffffff" stroke="none" stroke-width="1" />
<rect x="560.1999999999999" y="273.3" width="5" height="1.6" fill="#ffffff" stroke="none" stroke-width="1" />
<rect x="561.3" y="274.90000000000003" width="2.8" height="2.0" fill="#ffffff" stroke="none" stroke-width="1" />
<rect x="579.6" y="273.3" width="5" height="1.6" fill="#ffffff" stroke="none" stroke-width="1" />
<rect x="580.7" y="274.90000000000003" width="2.8" height="2.0" fill="#ffffff" stroke="none" stroke-width="1" />
<rect x="599.0" y="273.3" width="5" height="1.6" fill="#ffffff" stroke="none" stroke-width="1" />
<rect x="600.1" y="274.90000000000003" width="2.8" height="2.0" fill="#ffffff" stroke="none" stroke-width="1" />
<rect x="561" y="196.5" width="5" height="1.6" fill="#ffffff" stroke="none" stroke-width="1" />
<rect x="562.1" y="198.1" width="2.8" height="2.0" fill="#ffffff" stroke="none" stroke-width="1" />
<rect x="540.8" y="236.5" width="5" height="1.6" fill="#ffffff" stroke="none" stroke-width="1" />
<rect x="541.9" y="238.1" width="2.8" height="2.0" fill="#ffffff" stroke="none" stroke-width="1" />
<rect x="579.3" y="236.8" width="5" height="1.6" fill="#ffffff" stroke="none" stroke-width="1" />
<rect x="580.4" y="238.4" width="2.8" height="2.0" fill="#ffffff" stroke="none" stroke-width="1" />
<rect x="564.7" y="177" width="9.5" height="1.7" fill="#ffffff" stroke="none" stroke-width="1" />
<rect x="528.3" y="204" width="10.4" height="1.7" fill="#ffffff" stroke="none" stroke-width="1" />
<rect x="579.3" y="213" width="15.6" height="1.7" fill="#ffffff" stroke="none" stroke-width="1" />
<rect x="555.3" y="221.4" width="11.5" height="1.7" fill="#ffffff" stroke="none" stroke-width="1" />
<rect x="624" y="215.2" width="16.6" height="1.7" fill="#ffffff" stroke="none" stroke-width="1" />
<rect x="529.3" y="248" width="9.4" height="1.7" fill="#ffffff" stroke="none" stroke-width="1" />
<rect x="629" y="252.4" width="7.5" height="1.7" fill="#ffffff" stroke="none" stroke-width="1" />
<rect x="507" y="233.5" width="5" height="1.7" fill="#ffffff" stroke="none" stroke-width="1" />
<rect x="554" y="229.8" width="3" height="1.7" fill="#ffffff" stroke="none" stroke-width="1" />
<rect x="565" y="238" width="3" height="1.7" fill="#ffffff" stroke="none" stroke-width="1" />
<rect x="647.4" y="206.3" width="6" height="1.7" fill="#ffffff" stroke="none" stroke-width="1" />
<rect x="655.6" y="206.3" width="7" height="1.7" fill="#ffffff" stroke="none" stroke-width="1" />
<rect x="657" y="182" width="5" height="1.7" fill="#ffffff" stroke="none" stroke-width="1" />
<rect x="628.5" y="251.5" width="7" height="1.7" fill="#ffffff" stroke="none" stroke-width="1" />
<rect x="655.6" y="250.5" width="5" height="1.7" fill="#ffffff" stroke="none" stroke-width="1" />
<rect x="600" y="237" width="4" height="1.7" fill="#ffffff" stroke="none" stroke-width="1" />
<rect x="534" y="231" width="3.2" height="3.2" fill="#ffffff" stroke="none" stroke-width="1" />
<rect x="549" y="231.5" width="3.2" height="3.2" fill="#ffffff" stroke="none" stroke-width="1" />
<rect x="570" y="230.5" width="3.2" height="3.2" fill="#ffffff" stroke="none" stroke-width="1" />
<rect x="590" y="230.5" width="3.2" height="3.2" fill="#ffffff" stroke="none" stroke-width="1" />
<rect x="605" y="231" width="3.2" height="3.2" fill="#ffffff" stroke="none" stroke-width="1" />
<rect x="639.2" y="269" width="3.2" height="3.2" fill="#ffffff" stroke="none" stroke-width="1" />
<rect x="662.2" y="270" width="3.2" height="3.2" fill="#ffffff" stroke="none" stroke-width="1" />
<rect x="643.2" y="258.3" width="3.2" height="3.2" fill="#ffffff" stroke="none" stroke-width="1" />
<rect x="639.9" y="285" width="3.2" height="3.2" fill="#ffffff" stroke="none" stroke-width="1" />
<rect x="619.2" y="277" width="3.2" height="3.2" fill="#ffffff" stroke="none" stroke-width="1" />
<rect x="639" y="209" width="3.2" height="3.2" fill="#ffffff" stroke="none" stroke-width="1" />
<rect x="640.3" y="225.7" width="3.2" height="3.2" fill="#ffffff" stroke="none" stroke-width="1" />
<rect x="639" y="235" width="3.2" height="3.2" fill="#ffffff" stroke="none" stroke-width="1" />
<rect x="658" y="191.5" width="3.2" height="3.2" fill="#ffffff" stroke="none" stroke-width="1" />
<rect x="639" y="250.5" width="3.2" height="3.2" fill="#ffffff" stroke="none" stroke-width="1" />
<line x1="622" y1="300.8" x2="679" y2="300.8" stroke="#ffffff" stroke-width="2.4" />
<line x1="501.5" y1="164.1" x2="501.5" y2="291" stroke="#ff0000" stroke-width="1.5" />
<line x1="520.4" y1="164.1" x2="520.4" y2="291" stroke="#ff0000" stroke-width="1.5" />
<line x1="540.4" y1="164.1" x2="540.4" y2="291" stroke="#ff0000" stroke-width="1.5" />
<line x1="559.8" y1="164.1" x2="559.8" y2="291" stroke="#ff0000" stroke-width="1.5" />
<line x1="579.2" y1="164.1" x2="579.2" y2="291" stroke="#ff0000" stroke-width="1.5" />
<line x1="598.6" y1="164.1" x2="598.6" y2="291" stroke="#ff0000" stroke-width="1.5" />
<line x1="618" y1="164.1" x2="618" y2="291" stroke="#ff0000" stroke-width="1.5" />
<line x1="637.4" y1="164.1" x2="637.4" y2="291" stroke="#ff0000" stroke-width="1.5" />
<line x1="482.1" y1="169.3" x2="482.1" y2="296.3" stroke="#ff0000" stroke-width="1.5" />
<line x1="489.9" y1="164.1" x2="637.4" y2="164.1" stroke="#ff0000" stroke-width="1.5" />
<line x1="489.9" y1="164.1" x2="489.9" y2="169.3" stroke="#ff0000" stroke-width="1.5" />
<line x1="482.1" y1="169.3" x2="489.9" y2="169.3" stroke="#ff0000" stroke-width="1.5" />
<line x1="637.4" y1="162.2" x2="656.8" y2="162.2" stroke="#ff0000" stroke-width="1.5" />
<line x1="656.8" y1="162.2" x2="656.8" y2="202" stroke="#ff0000" stroke-width="1.5" />
<line x1="657.1" y1="184.2" x2="672.6" y2="184.2" stroke="#ff0000" stroke-width="1.5" />
<line x1="672.5" y1="184.2" x2="672.5" y2="285.2" stroke="#ff0000" stroke-width="1.5" />
<line x1="482.1" y1="180.4" x2="501.5" y2="180.4" stroke="#ff0000" stroke-width="1.5" />
<line x1="482.1" y1="202" x2="501.5" y2="202" stroke="#ff0000" stroke-width="1.5" />
<line x1="637.3" y1="201.8" x2="672.6" y2="201.8" stroke="#ff0000" stroke-width="1.5" />
<line x1="501.5" y1="231.4" x2="663.2" y2="231.4" stroke="#ff0000" stroke-width="1.5" />
<line x1="489.7" y1="291" x2="657.1" y2="291" stroke="#ff0000" stroke-width="1.5" />
<line x1="482.1" y1="296.3" x2="489.7" y2="296.3" stroke="#ff0000" stroke-width="1.5" />
<line x1="482.1" y1="190.4" x2="501.5" y2="190.4" stroke="#ff0000" stroke-width="1.5" />
<line x1="482.1" y1="221.4" x2="501.5" y2="221.4" stroke="#ff0000" stroke-width="1.5" />
<line x1="482.1" y1="243.4" x2="501.5" y2="243.4" stroke="#ff0000" stroke-width="1.5" />
<line x1="482.1" y1="264.5" x2="501.5" y2="264.5" stroke="#ff0000" stroke-width="1.5" />
<line x1="482.1" y1="285.2" x2="501.5" y2="285.2" stroke="#ff0000" stroke-width="1.5" />
<line x1="637.3" y1="223" x2="672.6" y2="223" stroke="#ff0000" stroke-width="1.5" />
<line x1="637.4" y1="243.4" x2="673.3" y2="243.4" stroke="#ff0000" stroke-width="1.5" />
<line x1="637.3" y1="264.5" x2="673.2" y2="264.5" stroke="#ff0000" stroke-width="1.5" />
<line x1="657.1" y1="285" x2="657.1" y2="291" stroke="#ff0000" stroke-width="1.5" />
<line x1="657.1" y1="285.2" x2="672.5" y2="285.2" stroke="#ff0000" stroke-width="1.5" />
<line x1="663" y1="231.4" x2="663" y2="268.5" stroke="#ff0000" stroke-width="1.9" />
<line x1="663" y1="268.5" x2="676" y2="268.5" stroke="#ff0000" stroke-width="1.9" />
<line x1="657.7" y1="162.2" x2="562" y2="294" stroke="#ff0000" stroke-width="1.3" stroke-dasharray="9,2"/>
<circle cx="501.5" cy="180.2" r="2.1" fill="#ff0000" stroke="none" stroke-width="1"/>
<circle cx="501.5" cy="201.8" r="2.1" fill="#ff0000" stroke="none" stroke-width="1"/>
<circle cx="501.5" cy="221.2" r="2.1" fill="#ff0000" stroke="none" stroke-width="1"/>
<circle cx="501.5" cy="243.4" r="2.1" fill="#ff0000" stroke="none" stroke-width="1"/>
<circle cx="501.5" cy="264.2" r="2.1" fill="#ff0000" stroke="none" stroke-width="1"/>
<circle cx="501.5" cy="285" r="2.1" fill="#ff0000" stroke="none" stroke-width="1"/>
<circle cx="520.4" cy="180.2" r="2.1" fill="#ff0000" stroke="none" stroke-width="1"/>
<circle cx="520.4" cy="201.8" r="2.1" fill="#ff0000" stroke="none" stroke-width="1"/>
<circle cx="520.4" cy="221.2" r="2.1" fill="#ff0000" stroke="none" stroke-width="1"/>
<circle cx="520.4" cy="243.4" r="2.1" fill="#ff0000" stroke="none" stroke-width="1"/>
<circle cx="520.4" cy="264.2" r="2.1" fill="#ff0000" stroke="none" stroke-width="1"/>
<circle cx="520.4" cy="285" r="2.1" fill="#ff0000" stroke="none" stroke-width="1"/>
<circle cx="540.4" cy="180.2" r="2.1" fill="#ff0000" stroke="none" stroke-width="1"/>
<circle cx="540.4" cy="201.8" r="2.1" fill="#ff0000" stroke="none" stroke-width="1"/>
<circle cx="540.4" cy="221.2" r="2.1" fill="#ff0000" stroke="none" stroke-width="1"/>
<circle cx="540.4" cy="243.4" r="2.1" fill="#ff0000" stroke="none" stroke-width="1"/>
<circle cx="540.4" cy="264.2" r="2.1" fill="#ff0000" stroke="none" stroke-width="1"/>
<circle cx="540.4" cy="285" r="2.1" fill="#ff0000" stroke="none" stroke-width="1"/>
<circle cx="559.8" cy="180.2" r="2.1" fill="#ff0000" stroke="none" stroke-width="1"/>
<circle cx="559.8" cy="201.8" r="2.1" fill="#ff0000" stroke="none" stroke-width="1"/>
<circle cx="559.8" cy="221.2" r="2.1" fill="#ff0000" stroke="none" stroke-width="1"/>
<circle cx="559.8" cy="243.4" r="2.1" fill="#ff0000" stroke="none" stroke-width="1"/>
<circle cx="559.8" cy="264.2" r="2.1" fill="#ff0000" stroke="none" stroke-width="1"/>
<circle cx="559.8" cy="285" r="2.1" fill="#ff0000" stroke="none" stroke-width="1"/>
<circle cx="579.2" cy="180.2" r="2.1" fill="#ff0000" stroke="none" stroke-width="1"/>
<circle cx="579.2" cy="201.8" r="2.1" fill="#ff0000" stroke="none" stroke-width="1"/>
<circle cx="579.2" cy="221.2" r="2.1" fill="#ff0000" stroke="none" stroke-width="1"/>
<circle cx="579.2" cy="243.4" r="2.1" fill="#ff0000" stroke="none" stroke-width="1"/>
<circle cx="579.2" cy="264.2" r="2.1" fill="#ff0000" stroke="none" stroke-width="1"/>
<circle cx="579.2" cy="285" r="2.1" fill="#ff0000" stroke="none" stroke-width="1"/>
<circle cx="598.6" cy="180.2" r="2.1" fill="#ff0000" stroke="none" stroke-width="1"/>
<circle cx="598.6" cy="201.8" r="2.1" fill="#ff0000" stroke="none" stroke-width="1"/>
<circle cx="598.6" cy="221.2" r="2.1" fill="#ff0000" stroke="none" stroke-width="1"/>
<circle cx="598.6" cy="243.4" r="2.1" fill="#ff0000" stroke="none" stroke-width="1"/>
<circle cx="598.6" cy="264.2" r="2.1" fill="#ff0000" stroke="none" stroke-width="1"/>
<circle cx="598.6" cy="285" r="2.1" fill="#ff0000" stroke="none" stroke-width="1"/>
<circle cx="618" cy="180.2" r="2.1" fill="#ff0000" stroke="none" stroke-width="1"/>
<circle cx="618" cy="201.8" r="2.1" fill="#ff0000" stroke="none" stroke-width="1"/>
<circle cx="618" cy="221.2" r="2.1" fill="#ff0000" stroke="none" stroke-width="1"/>
<circle cx="618" cy="243.4" r="2.1" fill="#ff0000" stroke="none" stroke-width="1"/>
<circle cx="618" cy="264.2" r="2.1" fill="#ff0000" stroke="none" stroke-width="1"/>
<circle cx="618" cy="285" r="2.1" fill="#ff0000" stroke="none" stroke-width="1"/>
<circle cx="637.4" cy="180.2" r="2.1" fill="#ff0000" stroke="none" stroke-width="1"/>
<circle cx="637.4" cy="201.8" r="2.1" fill="#ff0000" stroke="none" stroke-width="1"/>
<circle cx="637.4" cy="221.2" r="2.1" fill="#ff0000" stroke="none" stroke-width="1"/>
<circle cx="637.4" cy="243.4" r="2.1" fill="#ff0000" stroke="none" stroke-width="1"/>
<circle cx="637.4" cy="264.2" r="2.1" fill="#ff0000" stroke="none" stroke-width="1"/>
<circle cx="637.4" cy="285" r="2.1" fill="#ff0000" stroke="none" stroke-width="1"/>
<circle cx="482.1" cy="180.2" r="2.1" fill="#ff0000" stroke="none" stroke-width="1"/>
<circle cx="482.1" cy="201.8" r="2.1" fill="#ff0000" stroke="none" stroke-width="1"/>
<circle cx="482.1" cy="221.2" r="2.1" fill="#ff0000" stroke="none" stroke-width="1"/>
<circle cx="482.1" cy="243.4" r="2.1" fill="#ff0000" stroke="none" stroke-width="1"/>
<circle cx="482.1" cy="264.2" r="2.1" fill="#ff0000" stroke="none" stroke-width="1"/>
<circle cx="482.1" cy="285" r="2.1" fill="#ff0000" stroke="none" stroke-width="1"/>
<rect x="561" y="291.5" width="6" height="5" fill="#ff0000" stroke="none" stroke-width="1" />
<rect x="493" y="292" width="5" height="4" fill="none" stroke="#ff0000" stroke-width="1" />
<rect x="609.5" y="291.3" width="4.5" height="3" fill="#ff0000" stroke="none" stroke-width="1" />
<rect x="594" y="187" width="3" height="4" fill="#ff0000" stroke="none" stroke-width="1" />
<text x="488" y="195" font-size="4" fill="#ff0000" text-anchor="start" >P1</text>
<circle cx="511" cy="163.5" r="1.1" fill="#1414ff" stroke="none" stroke-width="1"/>
<circle cx="511" cy="290.6" r="1.1" fill="#1414ff" stroke="none" stroke-width="1"/>
<circle cx="530" cy="163.5" r="1.1" fill="#1414ff" stroke="none" stroke-width="1"/>
<circle cx="530" cy="290.6" r="1.1" fill="#1414ff" stroke="none" stroke-width="1"/>
<circle cx="550" cy="163.5" r="1.1" fill="#1414ff" stroke="none" stroke-width="1"/>
<circle cx="550" cy="290.6" r="1.1" fill="#1414ff" stroke="none" stroke-width="1"/>
<circle cx="569" cy="163.5" r="1.1" fill="#1414ff" stroke="none" stroke-width="1"/>
<circle cx="569" cy="290.6" r="1.1" fill="#1414ff" stroke="none" stroke-width="1"/>
<circle cx="589" cy="163.5" r="1.1" fill="#1414ff" stroke="none" stroke-width="1"/>
<circle cx="589" cy="290.6" r="1.1" fill="#1414ff" stroke="none" stroke-width="1"/>
<circle cx="608" cy="163.5" r="1.1" fill="#1414ff" stroke="none" stroke-width="1"/>
<circle cx="608" cy="290.6" r="1.1" fill="#1414ff" stroke="none" stroke-width="1"/>
<circle cx="627" cy="163.5" r="1.1" fill="#1414ff" stroke="none" stroke-width="1"/>
<circle cx="627" cy="290.6" r="1.1" fill="#1414ff" stroke="none" stroke-width="1"/>
<circle cx="482.1" cy="175" r="1.1" fill="#1414ff" stroke="none" stroke-width="1"/>
<circle cx="482.1" cy="196" r="1.1" fill="#1414ff" stroke="none" stroke-width="1"/>
<circle cx="482.1" cy="212" r="1.1" fill="#1414ff" stroke="none" stroke-width="1"/>
<circle cx="482.1" cy="232" r="1.1" fill="#1414ff" stroke="none" stroke-width="1"/>
<circle cx="482.1" cy="254" r="1.1" fill="#1414ff" stroke="none" stroke-width="1"/>
<circle cx="482.1" cy="275" r="1.1" fill="#1414ff" stroke="none" stroke-width="1"/>
<circle cx="673.3" cy="192.7" r="1.2" fill="#1414ff" stroke="none" stroke-width="1"/>
<circle cx="673.3" cy="212.7" r="1.2" fill="#1414ff" stroke="none" stroke-width="1"/>
<circle cx="673.3" cy="232.8" r="1.2" fill="#1414ff" stroke="none" stroke-width="1"/>
<circle cx="673.3" cy="254" r="1.2" fill="#1414ff" stroke="none" stroke-width="1"/>
<circle cx="673.3" cy="275.2" r="1.2" fill="#1414ff" stroke="none" stroke-width="1"/>
<rect x="673" y="264.5" width="14" height="16" fill="none" stroke="#8ae8ff" stroke-width="1.2" />
<rect x="676" y="268" width="8" height="11" fill="#e8e8e8" stroke="none" stroke-width="1" />
<rect x="677" y="273" width="3" height="2" fill="#ff0000" stroke="none" stroke-width="1" />
<line x1="681" y1="280.6" x2="681" y2="313.7" stroke="#e81ee8" stroke-width="1.4" />
<line x1="675" y1="313.7" x2="681" y2="313.7" stroke="#e81ee8" stroke-width="1.4" />
<line x1="681" y1="313.7" x2="681" y2="333" stroke="#ff0000" stroke-width="1.4" />
<circle cx="681" cy="334" r="1.8" fill="#ffee00" stroke="none" stroke-width="1"/>
<circle cx="669" cy="313.7" r="5.4" fill="none" stroke="#ffffff" stroke-width="1.1"/>
<rect x="666" y="312.2" width="6" height="1.4" fill="#ffffff" stroke="none" stroke-width="1" />
<rect x="667.8" y="313.6" width="2.4" height="1.4" fill="#ffffff" stroke="none" stroke-width="1" />
<line x1="105.8" y1="268.4" x2="276.8" y2="268.4" stroke="#ffffff" stroke-width="1.1" />
<rect x="85.3" y="262.5" width="20.5" height="11.1" fill="none" stroke="#ffffff" stroke-width="1.1" />
<text x="95.8" y="267.4" font-size="4" fill="#fff" text-anchor="middle" font-weight="bold">D.P.</text>
<text x="95.5" y="271.9" font-size="4" fill="#fff" text-anchor="middle" font-weight="bold" textLength="13" lengthAdjust="spacingAndGlyphs">BESON</text>
<line x1="135" y1="256.6" x2="148.2" y2="256.6" stroke="#ffffff" stroke-width="1.1" />
<line x1="135" y1="256.6" x2="135" y2="268.4" stroke="#ffffff" stroke-width="1.1" />
<ellipse cx="135" cy="256.6" rx="3.2" ry="3.5" fill="#000" stroke="#ffffff" stroke-width="1.1"/>
<path d="M133.8,254.90000000000003 L133.8,258.3 M136.2,254.90000000000003 L136.2,258.3 M133.8,256.6 L136.2,256.6" stroke="#ffffff" stroke-width="0.9"/>
<path d="M148.2,253.00000000000003 L151.5,256.6 L148.2,260.20000000000005 L144.89999999999998,256.6 Z" fill="#000" stroke="#ffffff" stroke-width="1.1" />
<path d="M147.0,254.90000000000003 L147.0,258.3 M149.39999999999998,254.90000000000003 L149.39999999999998,258.3 M147.0,256.6 L149.39999999999998,256.6" stroke="#ffffff" stroke-width="0.9"/>
<line x1="206.1" y1="256.8" x2="256.4" y2="256.8" stroke="#ffffff" stroke-width="1.1" />
<line x1="206.1" y1="256.8" x2="206.1" y2="268.4" stroke="#ffffff" stroke-width="1.1" />
<ellipse cx="206.1" cy="256.8" rx="3.2" ry="3.5" fill="#000" stroke="#ffffff" stroke-width="1.1"/>
<path d="M204.9,255.10000000000002 L204.9,258.5 M207.29999999999998,255.10000000000002 L207.29999999999998,258.5 M204.9,256.8 L207.29999999999998,256.8" stroke="#ffffff" stroke-width="0.9"/>
<ellipse cx="218.6" cy="256.8" rx="3.2" ry="3.5" fill="#000" stroke="#ffffff" stroke-width="1.1"/>
<path d="M217.4,255.10000000000002 L217.4,258.5 M219.79999999999998,255.10000000000002 L219.79999999999998,258.5 M217.4,256.8 L219.79999999999998,256.8" stroke="#ffffff" stroke-width="0.9"/>
<ellipse cx="231.3" cy="256.8" rx="3.2" ry="3.5" fill="#000" stroke="#ffffff" stroke-width="1.1"/>
<path d="M230.10000000000002,255.10000000000002 L230.10000000000002,258.5 M232.5,255.10000000000002 L232.5,258.5 M230.10000000000002,256.8 L232.5,256.8" stroke="#ffffff" stroke-width="0.9"/>
<ellipse cx="244.2" cy="256.8" rx="3.2" ry="3.5" fill="#000" stroke="#ffffff" stroke-width="1.1"/>
<path d="M243.0,255.10000000000002 L243.0,258.5 M245.39999999999998,255.10000000000002 L245.39999999999998,258.5 M243.0,256.8 L245.39999999999998,256.8" stroke="#ffffff" stroke-width="0.9"/>
<ellipse cx="256.4" cy="256.8" rx="3.2" ry="3.5" fill="#000" stroke="#ffffff" stroke-width="1.1"/>
<path d="M255.2,255.10000000000002 L255.2,258.5 M257.59999999999997,255.10000000000002 L257.59999999999997,258.5 M255.2,256.8 L257.59999999999997,256.8" stroke="#ffffff" stroke-width="0.9"/>
<ellipse cx="135" cy="268.4" rx="3.2" ry="3.5" fill="#000" stroke="#ffffff" stroke-width="1.1"/>
<path d="M133.8,266.7 L133.8,270.09999999999997 M136.2,266.7 L136.2,270.09999999999997 M133.8,268.4 L136.2,268.4" stroke="#ffffff" stroke-width="0.9"/>
<ellipse cx="148.2" cy="268.4" rx="3.2" ry="3.5" fill="#000" stroke="#ffffff" stroke-width="1.1"/>
<path d="M147.0,266.7 L147.0,270.09999999999997 M149.39999999999998,266.7 L149.39999999999998,270.09999999999997 M147.0,268.4 L149.39999999999998,268.4" stroke="#ffffff" stroke-width="0.9"/>
<ellipse cx="162.4" cy="268.4" rx="3.2" ry="3.5" fill="#000" stroke="#ffffff" stroke-width="1.1"/>
<path d="M161.20000000000002,266.7 L161.20000000000002,270.09999999999997 M163.6,266.7 L163.6,270.09999999999997 M161.20000000000002,268.4 L163.6,268.4" stroke="#ffffff" stroke-width="0.9"/>
<ellipse cx="176.2" cy="268.4" rx="3.2" ry="3.5" fill="#000" stroke="#ffffff" stroke-width="1.1"/>
<path d="M175.0,266.7 L175.0,270.09999999999997 M177.39999999999998,266.7 L177.39999999999998,270.09999999999997 M175.0,268.4 L177.39999999999998,268.4" stroke="#ffffff" stroke-width="0.9"/>
<ellipse cx="189.9" cy="268.4" rx="3.2" ry="3.5" fill="#000" stroke="#ffffff" stroke-width="1.1"/>
<path d="M188.70000000000002,266.7 L188.70000000000002,270.09999999999997 M191.1,266.7 L191.1,270.09999999999997 M188.70000000000002,268.4 L191.1,268.4" stroke="#ffffff" stroke-width="0.9"/>
<ellipse cx="206.1" cy="268.4" rx="3.2" ry="3.5" fill="#000" stroke="#ffffff" stroke-width="1.1"/>
<path d="M204.9,266.7 L204.9,270.09999999999997 M207.29999999999998,266.7 L207.29999999999998,270.09999999999997 M204.9,268.4 L207.29999999999998,268.4" stroke="#ffffff" stroke-width="0.9"/>
<ellipse cx="219.7" cy="268.4" rx="3.2" ry="3.5" fill="#000" stroke="#ffffff" stroke-width="1.1"/>
<path d="M218.5,266.7 L218.5,270.09999999999997 M220.89999999999998,266.7 L220.89999999999998,270.09999999999997 M218.5,268.4 L220.89999999999998,268.4" stroke="#ffffff" stroke-width="0.9"/>
<ellipse cx="233.1" cy="268.4" rx="3.2" ry="3.5" fill="#000" stroke="#ffffff" stroke-width="1.1"/>
<path d="M231.9,266.7 L231.9,270.09999999999997 M234.29999999999998,266.7 L234.29999999999998,270.09999999999997 M231.9,268.4 L234.29999999999998,268.4" stroke="#ffffff" stroke-width="0.9"/>
<ellipse cx="247.4" cy="268.4" rx="3.2" ry="3.5" fill="#000" stroke="#ffffff" stroke-width="1.1"/>
<path d="M246.20000000000002,266.7 L246.20000000000002,270.09999999999997 M248.6,266.7 L248.6,270.09999999999997 M246.20000000000002,268.4 L248.6,268.4" stroke="#ffffff" stroke-width="0.9"/>
<ellipse cx="261.3" cy="268.4" rx="3.2" ry="3.5" fill="#000" stroke="#ffffff" stroke-width="1.1"/>
<path d="M260.1,266.7 L260.1,270.09999999999997 M262.5,266.7 L262.5,270.09999999999997 M260.1,268.4 L262.5,268.4" stroke="#ffffff" stroke-width="0.9"/>
<line x1="190.5" y1="258" x2="190.5" y2="265" stroke="#ffffff" stroke-width="1.1" />
<ellipse cx="117.1" cy="260.4" rx="4.9" ry="4.2" fill="none" stroke="#ff0000" stroke-width="1.7"/>
<path d="M119.6,256.2 L122.6,252.7 L126.1,256.2 L123.6,259.5 Z" fill="#ff0000" stroke="#ff0000" stroke-width="1.0" />
<circle cx="123.1" cy="256" r="0.8" fill="#000" stroke="none" stroke-width="1"/>
<rect x="116.0" y="258.8" width="2.4" height="2.8" fill="#ffee00" stroke="none" stroke-width="1" />
<rect x="113.1" y="265" width="9" height="8" fill="#ff0000" stroke="#ff0000" stroke-width="1.0" />
<path d="M114.89999999999999,272.4 L115.3,265.9 L117.6,270.2 L119.89999999999999,265.9 L120.3,272.4" fill="none" stroke="#f4f000" stroke-width="1.4" stroke-linejoin="miter"/>
<ellipse cx="190.3" cy="245.6" rx="4.9" ry="4.2" fill="none" stroke="#ff0000" stroke-width="1.7"/>
<path d="M192.8,241.39999999999998 L195.8,237.89999999999998 L199.3,241.39999999999998 L196.8,244.7 Z" fill="#ff0000" stroke="#ff0000" stroke-width="1.0" />
<circle cx="196.3" cy="241.2" r="0.8" fill="#000" stroke="none" stroke-width="1"/>
<rect x="189.20000000000002" y="244.0" width="2.4" height="2.8" fill="#ffee00" stroke="none" stroke-width="1" />
<rect x="186.3" y="250.2" width="9" height="8" fill="#ff0000" stroke="#ff0000" stroke-width="1.0" />
<path d="M188.10000000000002,257.59999999999997 L188.5,251.1 L190.8,255.39999999999998 L193.10000000000002,251.1 L193.5,257.59999999999997" fill="none" stroke="#f4f000" stroke-width="1.4" stroke-linejoin="miter"/>
<path d="M269.8,263.5 L270.5,273 M272.5,263.5 L273.2,273" fill="none" stroke="#ffffff" stroke-width="1.2" />
<text x="279" y="270.8" font-size="4.4" fill="#fff" font-weight="bold" textLength="7.5" lengthAdjust="spacingAndGlyphs">RFL</text>
<text x="151.6" y="249" font-size="4" fill="#fff" font-weight="bold" textLength="15" lengthAdjust="spacingAndGlyphs">ZONA 8</text>
<text x="156" y="253.2" font-size="3.4" fill="#fff" font-weight="bold" textLength="20" lengthAdjust="spacingAndGlyphs">PISO 1 PAL</text>
<line x1="95.5" y1="273.6" x2="95.5" y2="301.6" stroke="#ffffff" stroke-width="1.1" />
<line x1="93.2" y1="294.5" x2="98" y2="289.5" stroke="#ffffff" stroke-width="1.0" />
<text x="84" y="295.8" font-size="5.6" fill="#fff" font-weight="bold" textLength="7.5" lengthAdjust="spacingAndGlyphs">1"Ø</text>
<rect x="88.5" y="301.6" width="14" height="25.9" fill="none" stroke="#ffffff" stroke-width="1.1" />
<text x="95.5" y="309" font-size="5.6" fill="#fff" text-anchor="middle" font-weight="bold">P</text>
<text x="95.5" y="316.6" font-size="5.6" fill="#fff" text-anchor="middle" font-weight="bold">A</text>
<text x="95.5" y="324" font-size="5.6" fill="#fff" text-anchor="middle" font-weight="bold">I</text>
<line x1="102.5" y1="314.6" x2="219.5" y2="314.6" stroke="#ffffff" stroke-width="1.1" />
<ellipse cx="132.4" cy="314.6" rx="3.2" ry="3.5" fill="#000" stroke="#ffffff" stroke-width="1.1"/>
<path d="M131.20000000000002,312.90000000000003 L131.20000000000002,316.3 M133.6,312.90000000000003 L133.6,316.3 M131.20000000000002,314.6 L133.6,314.6" stroke="#ffffff" stroke-width="0.9"/>
<ellipse cx="146.6" cy="314.6" rx="3.2" ry="3.5" fill="#000" stroke="#ffffff" stroke-width="1.1"/>
<path d="M145.4,312.90000000000003 L145.4,316.3 M147.79999999999998,312.90000000000003 L147.79999999999998,316.3 M145.4,314.6 L147.79999999999998,314.6" stroke="#ffffff" stroke-width="0.9"/>
<ellipse cx="159.9" cy="314.6" rx="3.2" ry="3.5" fill="#000" stroke="#ffffff" stroke-width="1.1"/>
<path d="M158.70000000000002,312.90000000000003 L158.70000000000002,316.3 M161.1,312.90000000000003 L161.1,316.3 M158.70000000000002,314.6 L161.1,314.6" stroke="#ffffff" stroke-width="0.9"/>
<ellipse cx="174" cy="314.6" rx="3.2" ry="3.5" fill="#000" stroke="#ffffff" stroke-width="1.1"/>
<path d="M172.8,312.90000000000003 L172.8,316.3 M175.2,312.90000000000003 L175.2,316.3 M172.8,314.6 L175.2,314.6" stroke="#ffffff" stroke-width="0.9"/>
<ellipse cx="188" cy="314.6" rx="3.2" ry="3.5" fill="#000" stroke="#ffffff" stroke-width="1.1"/>
<path d="M186.8,312.90000000000003 L186.8,316.3 M189.2,312.90000000000003 L189.2,316.3 M186.8,314.6 L189.2,314.6" stroke="#ffffff" stroke-width="0.9"/>
<ellipse cx="201.4" cy="314.6" rx="3.2" ry="3.5" fill="#000" stroke="#ffffff" stroke-width="1.1"/>
<path d="M200.20000000000002,312.90000000000003 L200.20000000000002,316.3 M202.6,312.90000000000003 L202.6,316.3 M200.20000000000002,314.6 L202.6,314.6" stroke="#ffffff" stroke-width="0.9"/>
<ellipse cx="114.8" cy="305.59999999999997" rx="4.9" ry="4.2" fill="none" stroke="#ff0000" stroke-width="1.7"/>
<path d="M117.3,301.4 L120.3,297.9 L123.8,301.4 L121.3,304.7 Z" fill="#ff0000" stroke="#ff0000" stroke-width="1.0" />
<circle cx="120.8" cy="301.2" r="0.8" fill="#000" stroke="none" stroke-width="1"/>
<rect x="113.7" y="304.0" width="2.4" height="2.8" fill="#ffee00" stroke="none" stroke-width="1" />
<rect x="110.8" y="310.2" width="9" height="8" fill="#ff0000" stroke="#ff0000" stroke-width="1.0" />
<path d="M112.6,317.59999999999997 L113.0,311.09999999999997 L115.3,315.4 L117.6,311.09999999999997 L118.0,317.59999999999997" fill="none" stroke="#f4f000" stroke-width="1.4" stroke-linejoin="miter"/>
<path d="M212.5,310 L213.2,319.5 M215.2,310 L215.9,319.5" fill="none" stroke="#ffffff" stroke-width="1.2" />
<text x="221" y="316.8" font-size="4.4" fill="#fff" font-weight="bold" textLength="8" lengthAdjust="spacingAndGlyphs">RFL</text>
<text x="168" y="304" font-size="4" fill="#fff" font-weight="bold" textLength="14" lengthAdjust="spacingAndGlyphs">ZONA 8</text>
<text x="168" y="308.8" font-size="3.4" fill="#fff" font-weight="bold" textLength="20" lengthAdjust="spacingAndGlyphs">PISO 1 PAL</text>
<rect x="109" y="320" width="149.7" height="3.9" fill="#ff0000" stroke="none" stroke-width="1" />
<rect x="109" y="325.6" width="144" height="3.5" fill="#ff0000" stroke="none" stroke-width="1" />
<rect x="109" y="329" width="60" height="3.8" fill="#ff0000" stroke="none" stroke-width="1" />
<line x1="91.5" y1="327.5" x2="91.5" y2="347.5" stroke="#ffffff" stroke-width="1.1" />
<line x1="55" y1="347.5" x2="91.5" y2="347.5" stroke="#ffffff" stroke-width="1.1" />
<text x="48" y="324.3" font-size="5.2" fill="#fff" font-weight="bold" textLength="35.4" lengthAdjust="spacingAndGlyphs">2# 12 THHN</text>
<text x="48" y="329" font-size="5.2" fill="#fff" font-weight="bold" textLength="35.4" lengthAdjust="spacingAndGlyphs">1# 12 DESN.</text>
<text x="49.8" y="336.1" font-size="5.2" fill="#fff" font-weight="bold" textLength="31.2" lengthAdjust="spacingAndGlyphs">120 VOLTS</text>
<text x="62" y="340.8" font-size="5.2" fill="#fff" font-weight="bold" textLength="7.8" lengthAdjust="spacingAndGlyphs">PA</text>
<text x="58" y="346" font-size="5.2" fill="#fff" font-weight="bold" textLength="16" lengthAdjust="spacingAndGlyphs">CKT##</text>
<text x="33.3" y="349.5" font-size="5.2" fill="#fff" font-weight="bold" textLength="17.7" lengthAdjust="spacingAndGlyphs">2-2"Ø</text>
<text transform="translate(58.85,362.9) scale(0.85,1)" font-size="10.8" fill="#fff" letter-spacing="1.128">DIAGRAMA</text>
<text transform="translate(121.35,362.9) scale(0.85,1)" font-size="10.8" fill="#fff" letter-spacing="1.052">ESQUEMATICO</text>
<text transform="translate(204.25,362.9) scale(0.85,1)" font-size="10.8" fill="#fff" letter-spacing="1.183">DE</text>
<text transform="translate(225.28,362.9) scale(0.85,1)" font-size="10.8" fill="#fff" letter-spacing="1.341">ALARMA</text>
<line x1="58.8" y1="364.5" x2="270.3" y2="364.5" stroke="#ffffff" stroke-width="1.0" />
<text transform="translate(122.43,375.1) scale(0.85,1)" font-size="10.8" fill="#fff" letter-spacing="1.444">CONTRA</text>
<text transform="translate(171.06,375.1) scale(0.85,1)" font-size="10.8" fill="#fff" letter-spacing="1.128">INCENDIO</text>
<line x1="122.1" y1="376.5" x2="223" y2="376.5" stroke="#ffffff" stroke-width="1.0" />
<polyline points="190.5,487.9 190.5,429.5 424.5,429.5 424.5,462.3" fill="none" stroke="#ffffff" stroke-width="1.0" stroke-linejoin="round" />
<rect x="186.4" y="488.79999999999995" width="7.8" height="14.2" fill="none" stroke="#ff0000" stroke-width="1.9" />
<path d="M190.3,503.9 L184.10000000000002,508.5 Q190.3,513.1999999999999 196.5,508.5 Z" fill="none" stroke="#ff0000" stroke-width="1.5" />
<text x="190.3" y="516.5" font-size="5.2" fill="#fff" font-weight="bold" text-anchor="middle">1</text>
<polyline points="205.5,487.9 205.5,431.5 422.5,431.5 422.5,462.3" fill="none" stroke="#ffffff" stroke-width="1.0" stroke-linejoin="round" />
<rect x="201.98999999999998" y="488.79999999999995" width="7.8" height="14.2" fill="none" stroke="#ff0000" stroke-width="1.9" />
<path d="M205.89,503.9 L199.69,508.5 Q205.89,513.1999999999999 212.08999999999997,508.5 Z" fill="none" stroke="#ff0000" stroke-width="1.5" />
<text x="205.89" y="516.5" font-size="5.2" fill="#fff" font-weight="bold" text-anchor="middle">2</text>
<polyline points="221.5,487.9 221.5,434.5 420.5,434.5 420.5,462.3" fill="none" stroke="#ffffff" stroke-width="1.0" stroke-linejoin="round" />
<rect x="217.57999999999998" y="488.79999999999995" width="7.8" height="14.2" fill="none" stroke="#ff0000" stroke-width="1.9" />
<path d="M221.48,503.9 L215.28,508.5 Q221.48,513.1999999999999 227.67999999999998,508.5 Z" fill="none" stroke="#ff0000" stroke-width="1.5" />
<text x="221.48" y="516.5" font-size="5.2" fill="#fff" font-weight="bold" text-anchor="middle">3</text>
<polyline points="237.5,487.9 237.5,436.5 418.5,436.5 418.5,462.3" fill="none" stroke="#ffffff" stroke-width="1.0" stroke-linejoin="round" />
<rect x="233.17" y="488.79999999999995" width="7.8" height="14.2" fill="none" stroke="#ff0000" stroke-width="1.9" />
<path d="M237.07,503.9 L230.87,508.5 Q237.07,513.1999999999999 243.26999999999998,508.5 Z" fill="none" stroke="#ff0000" stroke-width="1.5" />
<text x="237.07" y="516.5" font-size="5.2" fill="#fff" font-weight="bold" text-anchor="middle">4</text>
<polyline points="252.5,487.9 252.5,439.5 416.5,439.5 416.5,462.3" fill="none" stroke="#ffffff" stroke-width="1.0" stroke-linejoin="round" />
<rect x="248.76" y="488.79999999999995" width="7.8" height="14.2" fill="none" stroke="#ff0000" stroke-width="1.9" />
<path d="M252.66,503.9 L246.46,508.5 Q252.66,513.1999999999999 258.86,508.5 Z" fill="none" stroke="#ff0000" stroke-width="1.5" />
<text x="252.66" y="516.5" font-size="5.2" fill="#fff" font-weight="bold" text-anchor="middle">5</text>
<polyline points="268.5,487.9 268.5,441.5 413.5,441.5 413.5,462.3" fill="none" stroke="#ffffff" stroke-width="1.0" stroke-linejoin="round" />
<rect x="264.35" y="488.79999999999995" width="7.8" height="14.2" fill="none" stroke="#ff0000" stroke-width="1.9" />
<path d="M268.25,503.9 L262.05,508.5 Q268.25,513.1999999999999 274.45,508.5 Z" fill="none" stroke="#ff0000" stroke-width="1.5" />
<text x="268.25" y="516.5" font-size="5.2" fill="#fff" font-weight="bold" text-anchor="middle">6</text>
<polyline points="283.5,487.9 283.5,443.5 411.5,443.5 411.5,462.3" fill="none" stroke="#ffffff" stroke-width="1.0" stroke-linejoin="round" />
<rect x="279.94" y="488.79999999999995" width="7.8" height="14.2" fill="none" stroke="#ff0000" stroke-width="1.9" />
<path d="M283.84,503.9 L277.64,508.5 Q283.84,513.1999999999999 290.03999999999996,508.5 Z" fill="none" stroke="#ff0000" stroke-width="1.5" />
<text x="283.84" y="516.5" font-size="5.2" fill="#fff" font-weight="bold" text-anchor="middle">7</text>
<polyline points="299.5,487.9 299.5,446.5 409.5,446.5 409.5,462.3" fill="none" stroke="#ffffff" stroke-width="1.0" stroke-linejoin="round" />
<rect x="295.53000000000003" y="488.79999999999995" width="7.8" height="14.2" fill="none" stroke="#ff0000" stroke-width="1.9" />
<path d="M299.43,503.9 L293.23,508.5 Q299.43,513.1999999999999 305.63,508.5 Z" fill="none" stroke="#ff0000" stroke-width="1.5" />
<text x="299.43" y="516.5" font-size="5.2" fill="#fff" font-weight="bold" text-anchor="middle">8</text>
<polyline points="315.5,487.9 315.5,448.5 407.5,448.5 407.5,462.3" fill="none" stroke="#ffffff" stroke-width="1.0" stroke-linejoin="round" />
<rect x="311.12" y="488.79999999999995" width="7.8" height="14.2" fill="none" stroke="#ff0000" stroke-width="1.9" />
<path d="M315.02,503.9 L308.82,508.5 Q315.02,513.1999999999999 321.21999999999997,508.5 Z" fill="none" stroke="#ff0000" stroke-width="1.5" />
<text x="315.02" y="516.5" font-size="5.2" fill="#fff" font-weight="bold" text-anchor="middle">9</text>
<polyline points="330.5,487.9 330.5,451.5 405.5,451.5 405.5,462.3" fill="none" stroke="#ffffff" stroke-width="1.0" stroke-linejoin="round" />
<rect x="326.71000000000004" y="488.79999999999995" width="7.8" height="14.2" fill="none" stroke="#ff0000" stroke-width="1.9" />
<path d="M330.61,503.9 L324.41,508.5 Q330.61,513.1999999999999 336.81,508.5 Z" fill="none" stroke="#ff0000" stroke-width="1.5" />
<text x="330.61" y="516.5" font-size="5.2" fill="#fff" font-weight="bold" text-anchor="middle">10</text>
<polyline points="346.5,487.9 346.5,453.5 402.5,453.5 402.5,462.3" fill="none" stroke="#ffffff" stroke-width="1.0" stroke-linejoin="round" />
<rect x="342.3" y="488.79999999999995" width="7.8" height="14.2" fill="none" stroke="#ff0000" stroke-width="1.9" />
<path d="M346.2,503.9 L340.0,508.5 Q346.2,513.1999999999999 352.4,508.5 Z" fill="none" stroke="#ff0000" stroke-width="1.5" />
<text x="346.2" y="516.5" font-size="5.2" fill="#fff" font-weight="bold" text-anchor="middle">11</text>
<polyline points="361.5,487.9 361.5,456.5 400.5,456.5 400.5,462.3" fill="none" stroke="#ffffff" stroke-width="1.0" stroke-linejoin="round" />
<rect x="357.89000000000004" y="488.79999999999995" width="7.8" height="14.2" fill="none" stroke="#ff0000" stroke-width="1.9" />
<path d="M361.79,503.9 L355.59000000000003,508.5 Q361.79,513.1999999999999 367.99,508.5 Z" fill="none" stroke="#ff0000" stroke-width="1.5" />
<text x="361.79" y="516.5" font-size="5.2" fill="#fff" font-weight="bold" text-anchor="middle">12</text>
<polyline points="535.5,478.8 535.5,445.5 426.5,445.5 426.5,462.3" fill="none" stroke="#ffffff" stroke-width="1.0" stroke-linejoin="round" />
<polyline points="520.5,478.8 520.5,447.5 429.5,447.5 429.5,462.3" fill="none" stroke="#ffffff" stroke-width="1.0" stroke-linejoin="round" />
<polyline points="504.5,478.8 504.5,450.5 431.5,450.5 431.5,462.3" fill="none" stroke="#ffffff" stroke-width="1.0" stroke-linejoin="round" />
<polyline points="488.5,478.8 488.5,453.5 433.5,453.5 433.5,462.3" fill="none" stroke="#ffffff" stroke-width="1.0" stroke-linejoin="round" />
<polyline points="473.5,478.8 473.5,456.5 435.5,456.5 435.5,462.3" fill="none" stroke="#ffffff" stroke-width="1.0" stroke-linejoin="round" />
<rect x="469.3" y="479.7" width="7.8" height="14.2" fill="none" stroke="#ff0000" stroke-width="1.9" />
<path d="M473.2,494.8 L467.0,499.40000000000003 Q473.2,504.1 479.4,499.40000000000003 Z" fill="none" stroke="#ff0000" stroke-width="1.5" />
<text x="473.2" y="507.40000000000003" font-size="5.2" fill="#fff" font-weight="bold" text-anchor="middle">13</text>
<rect x="484.90000000000003" y="479.7" width="7.8" height="14.2" fill="none" stroke="#ff0000" stroke-width="1.9" />
<path d="M488.8,494.8 L482.6,499.40000000000003 Q488.8,504.1 495.0,499.40000000000003 Z" fill="none" stroke="#ff0000" stroke-width="1.5" />
<text x="488.8" y="507.40000000000003" font-size="5.2" fill="#fff" font-weight="bold" text-anchor="middle">14</text>
<rect x="500.5" y="479.7" width="7.8" height="14.2" fill="none" stroke="#ff0000" stroke-width="1.9" />
<path d="M504.4,494.8 L498.2,499.40000000000003 Q504.4,504.1 510.59999999999997,499.40000000000003 Z" fill="none" stroke="#ff0000" stroke-width="1.5" />
<text x="504.4" y="507.40000000000003" font-size="5.2" fill="#fff" font-weight="bold" text-anchor="middle">15</text>
<rect x="516.1" y="479.7" width="7.8" height="14.2" fill="none" stroke="#ff0000" stroke-width="1.9" />
<path d="M520.0,494.8 L513.8,499.40000000000003 Q520.0,504.1 526.2,499.40000000000003 Z" fill="none" stroke="#ff0000" stroke-width="1.5" />
<text x="520.0" y="507.40000000000003" font-size="5.2" fill="#fff" font-weight="bold" text-anchor="middle">16</text>
<rect x="531.7" y="479.7" width="7.8" height="14.2" fill="none" stroke="#ff0000" stroke-width="1.9" />
<path d="M535.6,494.8 L529.4,499.40000000000003 Q535.6,504.1 541.8000000000001,499.40000000000003 Z" fill="none" stroke="#ff0000" stroke-width="1.5" />
<text x="535.6" y="507.40000000000003" font-size="5.2" fill="#fff" font-weight="bold" text-anchor="middle">17</text>
<rect x="398.4" y="462.3" width="46.4" height="22" fill="#000" stroke="#ffffff" stroke-width="1.2" />
<text x="421.8" y="471.8" font-size="3.8" fill="#fff" font-weight="bold" text-anchor="middle">D.V.</text>
<text x="421.6" y="476.2" font-size="3.8" fill="#fff" font-weight="bold" text-anchor="middle" textLength="18" lengthAdjust="spacingAndGlyphs">GRABADOR</text>
<line x1="361.8" y1="460.7" x2="400.7" y2="424.1" stroke="#ffffff" stroke-width="1.0" />
<text x="376.8" y="428.6" font-size="6.2" fill="#fff" textLength="17.2" lengthAdjust="spacingAndGlyphs">3/4"Ø</text>
<line x1="455.3" y1="456.2" x2="469.5" y2="443" stroke="#ffffff" stroke-width="1.0" />
<text x="457.5" y="446.6" font-size="6.0" fill="#fff" textLength="17.3" lengthAdjust="spacingAndGlyphs">3/4"Ø</text>
<line x1="415.5" y1="484.3" x2="415.5" y2="523.5" stroke="#ffffff" stroke-width="1.0" />
<line x1="415.5" y1="523.5" x2="403" y2="523.5" stroke="#ffffff" stroke-width="1.0" />
<path d="M403,523.2 L406,521.8 M403,523.2 L406,524.6" fill="none" stroke="#ffffff" stroke-width="0.9" />
<text x="404.5" y="521.5" font-size="4.8" fill="#fff" font-weight="bold" textLength="10" lengthAdjust="spacingAndGlyphs">2"Ø</text>
<line x1="423.5" y1="484.3" x2="423.5" y2="555.5" stroke="#ffffff" stroke-width="1.0" />
<line x1="423.5" y1="555.5" x2="457" y2="555.5" stroke="#ffffff" stroke-width="1.0" />
<path d="M457,555 L452,553.6 L452,556.4 Z" fill="#ffffff" stroke="#ffffff" stroke-width="0.8" />
<text x="430.5" y="552.6" font-size="4.8" fill="#fff" font-weight="bold" textLength="10" lengthAdjust="spacingAndGlyphs">2"Ø</text>
<text x="460.5" y="548" font-size="4.2" fill="#fff" font-weight="bold" textLength="17" lengthAdjust="spacingAndGlyphs">HACIA</text>
<text x="460" y="553.7" font-size="4.2" fill="#fff" font-weight="bold" textLength="18" lengthAdjust="spacingAndGlyphs">PANEL</text>
<line x1="436.5" y1="484.3" x2="436.5" y2="526.5" stroke="#ffffff" stroke-width="1.0" />
<line x1="436.5" y1="526.5" x2="592.5" y2="526.5" stroke="#ffffff" stroke-width="1.0" />
<line x1="592.5" y1="526.5" x2="592.5" y2="473.7" stroke="#ffffff" stroke-width="1.0" />
<text x="510" y="523.6" font-size="4.8" fill="#fff" font-weight="bold" textLength="9.5" lengthAdjust="spacingAndGlyphs">2"Ø</text>
<line x1="513" y1="525" x2="517" y2="521.5" stroke="#ffffff" stroke-width="0.7" />
<rect x="374" y="511.6" width="27.6" height="24.1" fill="none" stroke="#ffffff" stroke-width="1.2" />
<text x="387.8" y="523.2" font-size="4.2" fill="#fff" font-weight="bold" text-anchor="middle" textLength="19" lengthAdjust="spacingAndGlyphs">MONITOR</text>
<rect x="579.2" y="462.4" width="26.4" height="11.3" fill="#000" stroke="#ffffff" stroke-width="1.2" />
<text x="592.6" y="467.6" font-size="3.4" fill="#fff" font-weight="bold" text-anchor="middle">D.V.</text>
<text x="592.4" y="471.8" font-size="3.4" fill="#fff" font-weight="bold" text-anchor="middle" textLength="18" lengthAdjust="spacingAndGlyphs">GRABADOR</text>
<polyline points="639.5,479 639.5,455.5 602.5,455.5 602.5,462.4" fill="none" stroke="#ffffff" stroke-width="1.0" stroke-linejoin="round" />
<rect x="635.1" y="479.9" width="7.8" height="14.2" fill="none" stroke="#ff0000" stroke-width="1.9" />
<path d="M639,495 L632.8,499.6 Q639,504.3 645.2,499.6 Z" fill="none" stroke="#ff0000" stroke-width="1.5" />
<text x="639" y="507.6" font-size="5.2" fill="#fff" font-weight="bold" text-anchor="middle">18</text>
<polyline points="654.5,479 654.5,453.5 600.5,453.5 600.5,462.4" fill="none" stroke="#ffffff" stroke-width="1.0" stroke-linejoin="round" />
<rect x="650.9" y="479.9" width="7.8" height="14.2" fill="none" stroke="#ff0000" stroke-width="1.9" />
<path d="M654.8,495 L648.5999999999999,499.6 Q654.8,504.3 661.0,499.6 Z" fill="none" stroke="#ff0000" stroke-width="1.5" />
<text x="654.8" y="507.6" font-size="5.2" fill="#fff" font-weight="bold" text-anchor="middle">19</text>
<polyline points="670.5,479 670.5,450.5 597.5,450.5 597.5,462.4" fill="none" stroke="#ffffff" stroke-width="1.0" stroke-linejoin="round" />
<rect x="666.6" y="479.9" width="7.8" height="14.2" fill="none" stroke="#ff0000" stroke-width="1.9" />
<path d="M670.5,495 L664.3,499.6 Q670.5,504.3 676.7,499.6 Z" fill="none" stroke="#ff0000" stroke-width="1.5" />
<text x="670.5" y="507.6" font-size="5.2" fill="#fff" font-weight="bold" text-anchor="middle">20</text>
<line x1="612" y1="446.5" x2="619.5" y2="454.5" stroke="#ffffff" stroke-width="1.0" />
<text x="605" y="446.8" font-size="6.0" fill="#fff" textLength="17.4" lengthAdjust="spacingAndGlyphs">3/4"Ø</text>
<text transform="translate(326.15,568.7) scale(0.85,1)" font-size="10.8" fill="#fff" letter-spacing="0.910">DIAGRAMA</text>
<text transform="translate(386.25,568.7) scale(0.85,1)" font-size="10.8" fill="#fff" letter-spacing="1.264">ESQUEMATICO</text>
<line x1="325" y1="569.5" x2="465" y2="569.5" stroke="#ffffff" stroke-width="1.0" />
<text transform="translate(332.33,580.4) scale(0.85,1)" font-size="10.8" fill="#fff" letter-spacing="1.959">CAMARA</text>
<text transform="translate(384.25,580.4) scale(0.85,1)" font-size="10.8" fill="#fff" letter-spacing="0.948">DE</text>
<text transform="translate(406.45,580.4) scale(0.85,1)" font-size="10.8" fill="#fff" letter-spacing="0.856">VIGILANCIA</text>
<line x1="332.2" y1="581.5" x2="465.5" y2="581.5" stroke="#ffffff" stroke-width="1.0" />
</svg></body></html>
